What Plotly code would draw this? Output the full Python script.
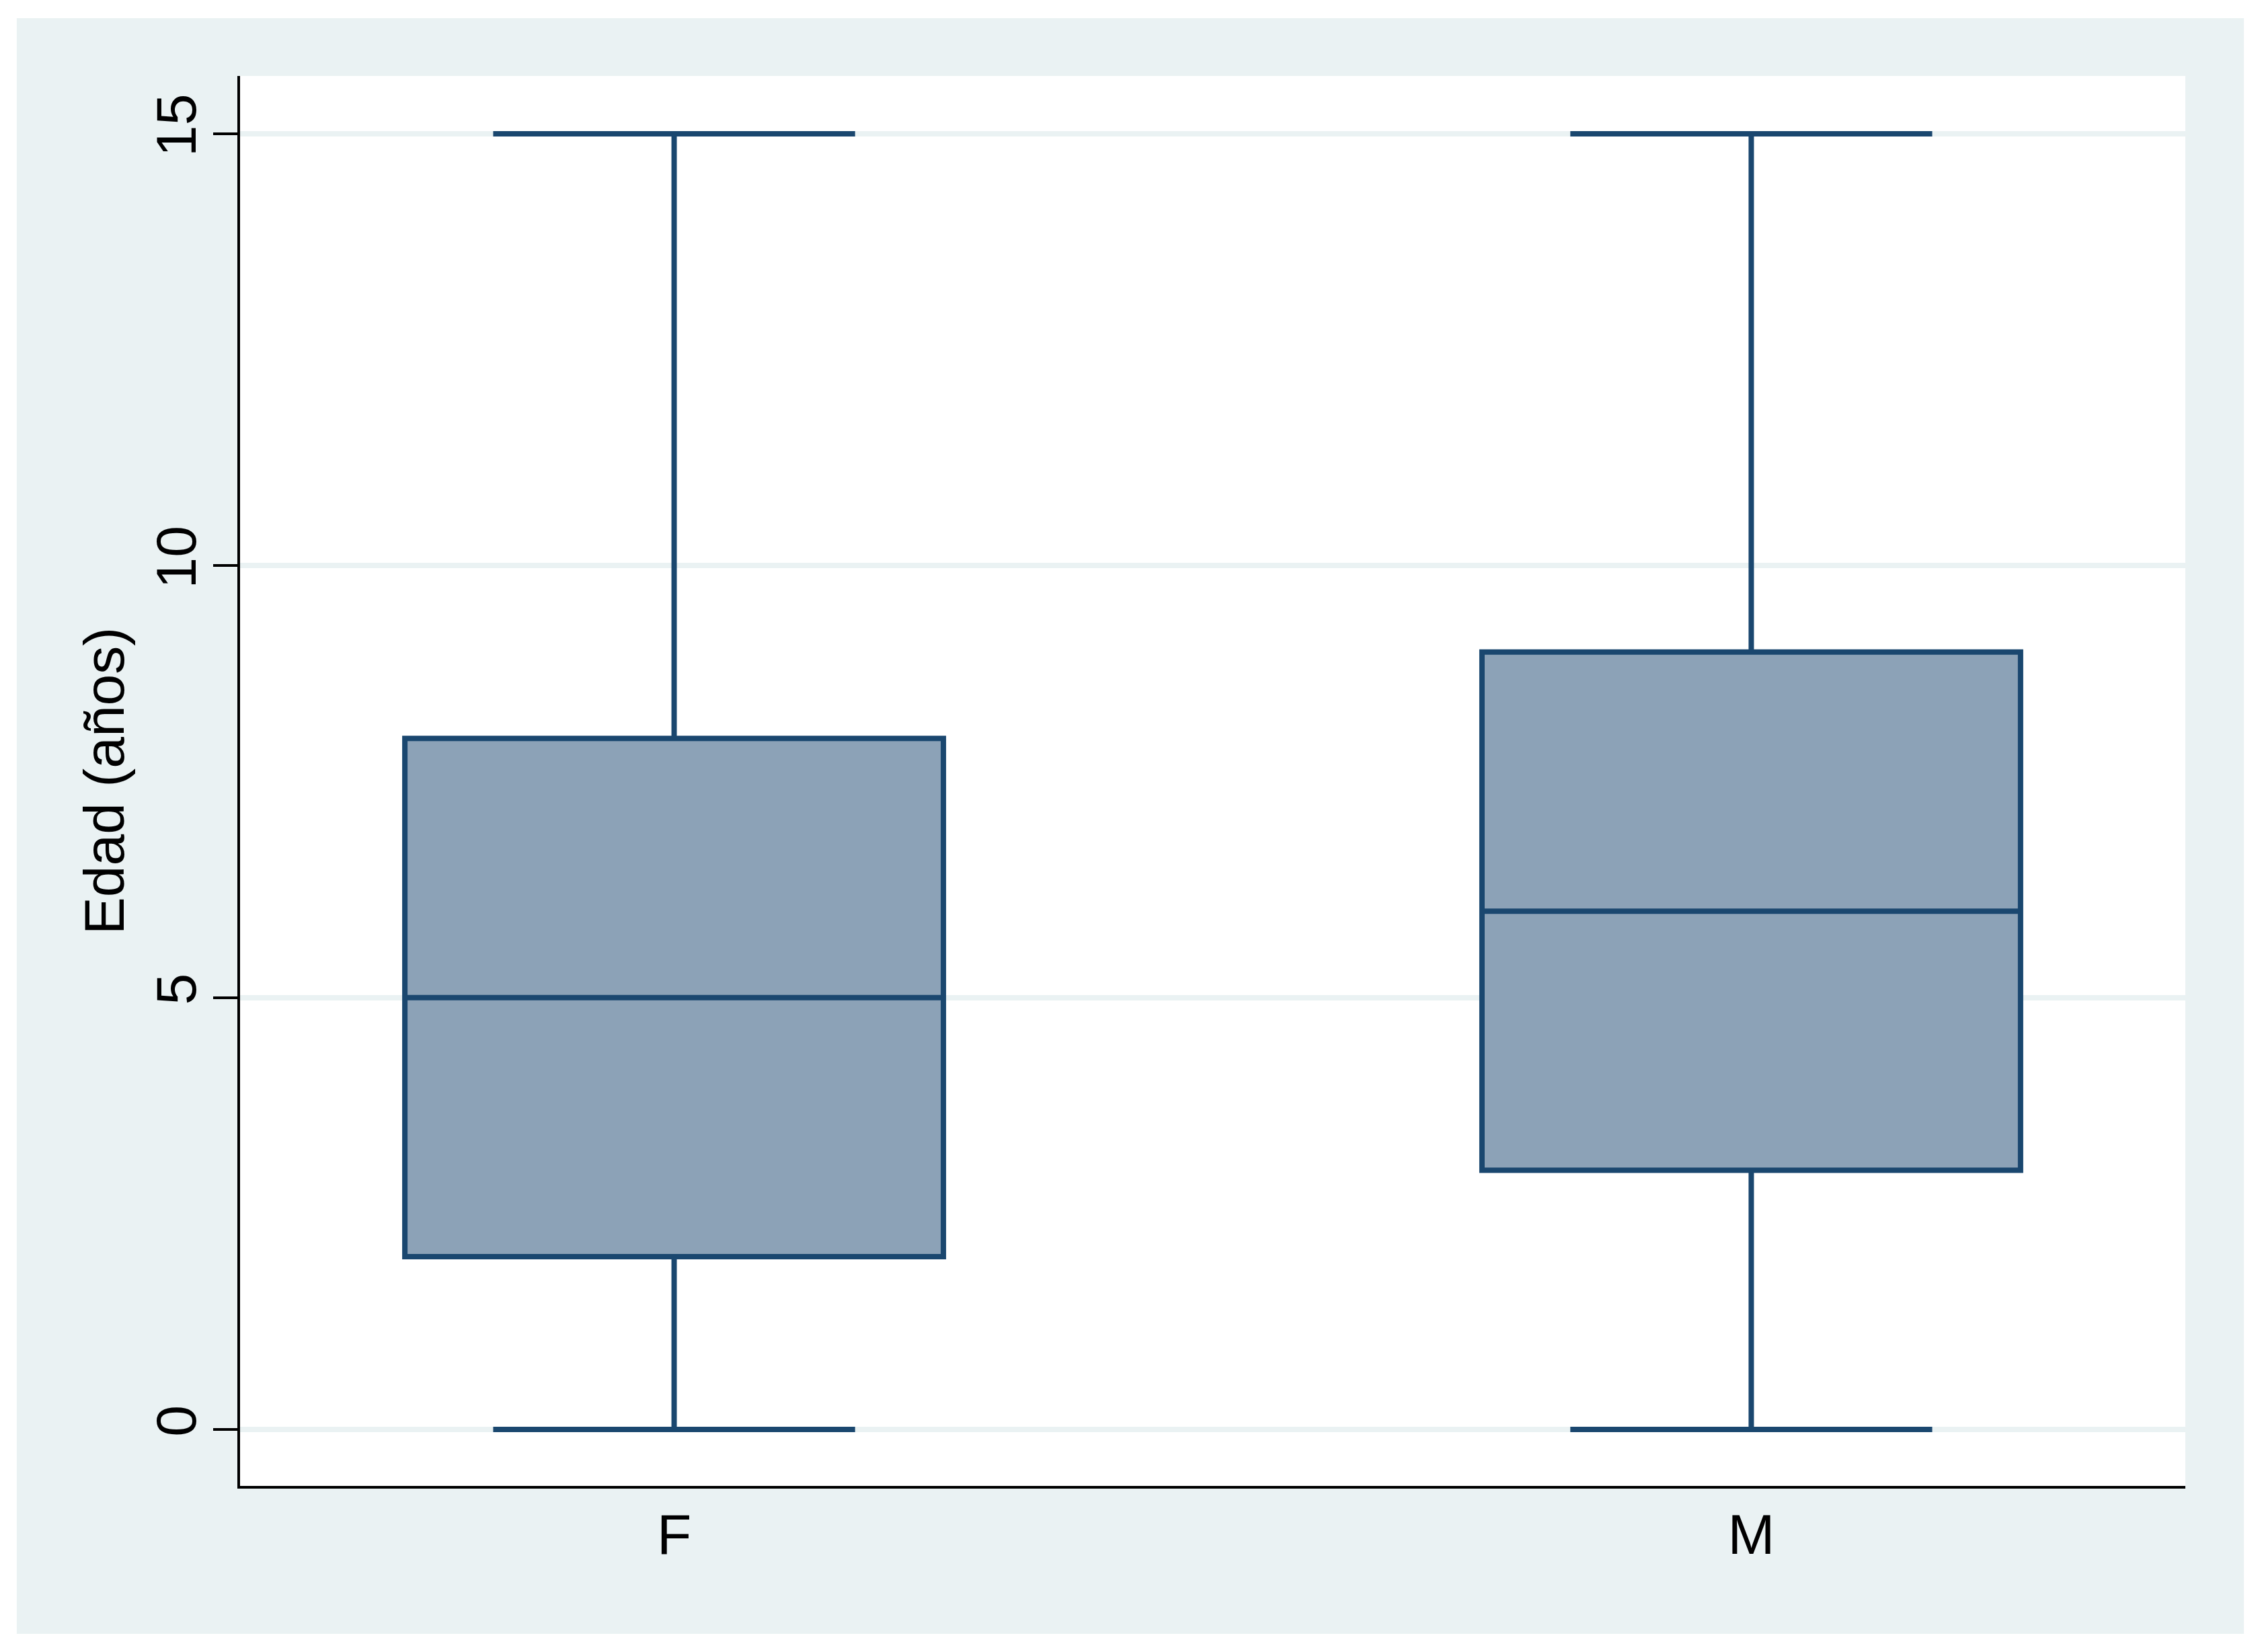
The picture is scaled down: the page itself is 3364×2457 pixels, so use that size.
import plotly.graph_objects as go

# box stats (Edad in years, by sex)
sexo = ["F", "M"]
minimo = [0, 0]
q1 = [2, 3]
mediana = [5, 6]
q3 = [8, 9]
maximo = [15, 15]

y_ticks = [0, 5, 10, 15]

navy = "#1A476F"
fill = "#8CA2B7"
panel = "#EAF2F3"

fig = go.Figure(
    data=[go.Box(x=sexo, q1=q1, median=mediana, q3=q3,
                 lowerfence=minimo, upperfence=maximo,
                 width=0.5, whiskerwidth=0.672,
                 fillcolor=fill, line=dict(color=navy, width=8),
                 boxpoints=False, showlegend=False)]
)

# page body has an 8px margin, so margins are shifted by that much
fig.update_layout(
    width=3364, height=2457,
    margin=dict(l=349, r=122, t=105, b=255, autoexpand=False),
    paper_bgcolor="white",
    plot_bgcolor="white",
    font=dict(family="Liberation Sans, Arial, sans-serif", size=84, color="black"),
    shapes=[
        # outer light panel, then the white plot region on top of it
        dict(type="rect", xref="paper", yref="paper", x0=-0.1148, x1=1.0301,
             y0=-0.1049, y1=1.041, fillcolor=panel, line_width=0, layer="below"),
        dict(type="rect", xref="paper", yref="paper", x0=0, x1=1, y0=0, y1=1,
             fillcolor="white", line_width=0, layer="below"),
    ],
)

fig.update_xaxes(
    range=[-0.403, 1.403],
    showgrid=False, zeroline=False,
    showline=True, linecolor="black", linewidth=4,
    ticks="", ticklabelstandoff=-4,
    tickfont=dict(size=84),
)

fig.update_yaxes(
    range=[-0.654, 15.669],
    tickvals=y_ticks, tickangle=-90,
    showgrid=True, gridcolor=panel, gridwidth=8,
    zeroline=False,
    showline=True, linecolor="black", linewidth=4,
    ticks="outside", ticklen=36, tickwidth=4, tickcolor="black",
    ticklabelstandoff=-8,
    tickfont=dict(size=84),
    title=dict(text="Edad (años)", font=dict(size=84), standoff=4),
)

fig.write_html("out.html")
